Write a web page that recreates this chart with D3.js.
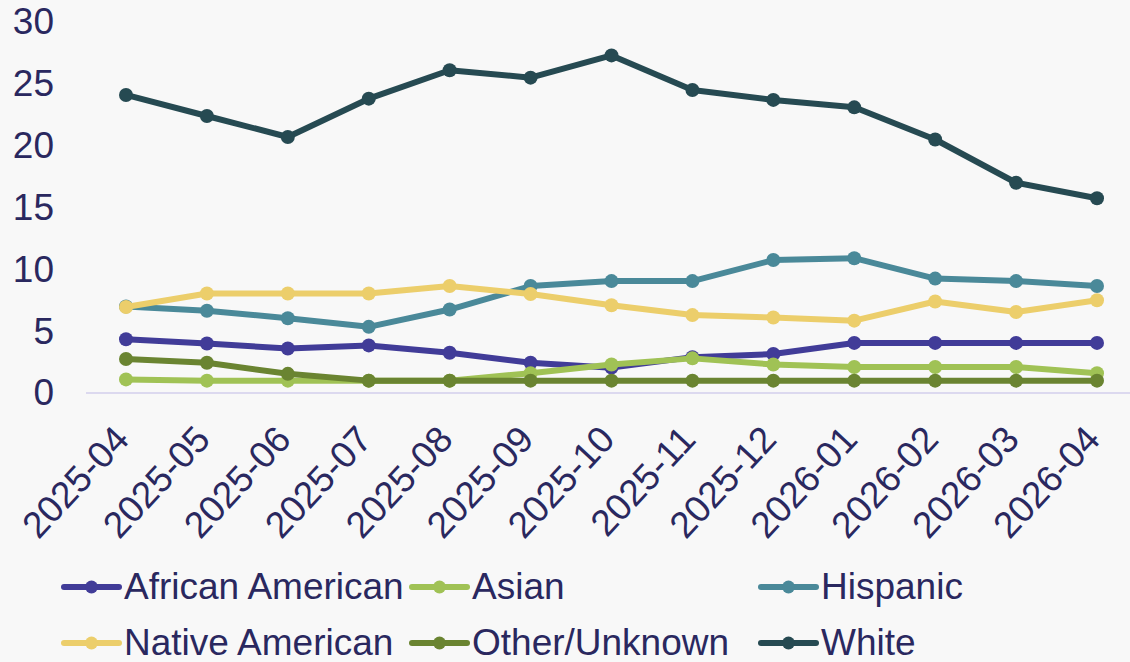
<!DOCTYPE html>
<html>
<head>
<meta charset="utf-8">
<script src="https://cdn.jsdelivr.net/npm/d3@7"></script>
<style>
  body { margin: 0; background: #f8f8f8; }
  svg { display: block; font-family: "Liberation Sans", Arial, sans-serif; }
</style>
</head>
<body>
<script>
// months on the x axis
var months = ["2025-04", "2025-05", "2025-06", "2025-07", "2025-08", "2025-09", "2025-10",
  "2025-11", "2025-12", "2026-01", "2026-02", "2026-03", "2026-04"];

// series values
var africanAmerican = [4.35, 4.0, 3.6, 3.85, 3.25, 2.45, 2.05, 2.9, 3.15, 4.05, 4.05, 4.05, 4.05];
var asian = [1.1, 1.0, 1.0, 1.0, 1.0, 1.6, 2.3, 2.8, 2.3, 2.1, 2.1, 2.1, 1.6];
var hispanic = [7.0, 6.65, 6.05, 5.35, 6.75, 8.65, 9.05, 9.05, 10.75, 10.9, 9.25, 9.05, 8.65];
var nativeAmerican = [6.95, 8.05, 8.05, 8.05, 8.65, 8.0, 7.1, 6.3, 6.1, 5.85, 7.4, 6.55, 7.5];
var otherUnknown = [2.75, 2.45, 1.55, 1.0, 1.0, 1.0, 1.0, 1.0, 1.0, 1.0, 1.0, 1.0, 1.0];
var white = [24.1, 22.4, 20.7, 23.8, 26.1, 25.5, 27.3, 24.5, 23.7, 23.1, 20.5, 17.0, 15.75];

var seriesNames = ["African American", "Asian", "Hispanic", "Native American", "Other/Unknown", "White"];
var seriesColors = ["#413c98", "#a0c255", "#4a8999", "#ecce6b", "#6a8431", "#264a52"];
var yTicks = [0, 5, 10, 15, 20, 25, 30];

var allSeries = [africanAmerican, asian, hispanic, nativeAmerican, otherUnknown, white];

var svg_Width = 1130;
var svg_Height = 662;
var textColor = "#2a285f";
var fontSize = "37px";

var svg = d3.select("body")
  .append("svg")
  .attr("width", svg_Width)
  .attr("height", svg_Height);

svg.append("rect")
  .attr("width", svg_Width)
  .attr("height", svg_Height)
  .attr("fill", "#f8f8f8");

// scales
var x = d3.scalePoint().domain(months).range([126, 1097]);
var y = d3.scaleLinear().domain([0, 30]).range([393, 22]);

// baseline
svg.append("line")
  .attr("x1", 86)
  .attr("x2", svg_Width)
  .attr("y1", y(0))
  .attr("y2", y(0))
  .attr("stroke", "#dcd9ef")
  .attr("stroke-width", 2);

// y axis labels
var left_Axis = d3.axisLeft(y).tickValues(yTicks).tickSize(0).tickPadding(0);
var yAxis = svg.append("g")
  .attr("transform", "translate(54,0)")
  .call(left_Axis);
yAxis.select(".domain").remove();
yAxis.selectAll("text")
  .attr("fill", textColor)
  .style("font-size", fontSize)
  .style("font-family", "Liberation Sans, Arial, sans-serif");

// x axis labels, rotated
var bottom_Axis = d3.axisBottom(x).tickSize(0).tickPadding(0);
var xAxis = svg.append("g")
  .call(bottom_Axis);
xAxis.select(".domain").remove();
xAxis.selectAll(".tick")
  .attr("transform", function(d) { return "translate(" + (x(d) + 5) + ",441)"; });
xAxis.selectAll("text")
  .attr("y", 0)
  .attr("dy", 0)
  .attr("transform", "rotate(-47)")
  .attr("text-anchor", "end")
  .attr("fill", textColor)
  .style("font-size", fontSize)
  .style("font-family", "Liberation Sans, Arial, sans-serif");

// lines and points
var line = d3.line()
  .x(function(d, i) { return x(months[i]); })
  .y(function(d) { return y(d); });

allSeries.forEach(function(values, k) {
  var g = svg.append("g");
  g.append("path")
    .datum(values)
    .attr("d", line)
    .attr("fill", "none")
    .attr("stroke", seriesColors[k])
    .attr("stroke-width", 6)
    .attr("stroke-linejoin", "round");
  g.selectAll("circle")
    .data(values)
    .enter()
    .append("circle")
    .attr("cx", function(d, i) { return x(months[i]); })
    .attr("cy", function(d) { return y(d); })
    .attr("r", 7)
    .attr("fill", seriesColors[k]);
});

// legend
var legendCols = [64, 412, 761];
var legendRows = [587, 643];
var legend = svg.append("g");
seriesNames.forEach(function(name, k) {
  var lx = legendCols[k % 3];
  var ly = legendRows[Math.floor(k / 3)];
  var item = legend.append("g").attr("transform", "translate(" + lx + "," + ly + ")");
  item.append("line")
    .attr("x1", 0).attr("x2", 55)
    .attr("y1", 0).attr("y2", 0)
    .attr("stroke", seriesColors[k])
    .attr("stroke-width", 6)
    .attr("stroke-linecap", "round");
  item.append("circle")
    .attr("cx", 27.5).attr("cy", 0).attr("r", 6.5)
    .attr("fill", seriesColors[k]);
  item.append("text")
    .attr("x", 60)
    .attr("y", 12)
    .attr("fill", textColor)
    .style("font-size", fontSize)
    .text(name);
});
</script>
</body>
</html>
